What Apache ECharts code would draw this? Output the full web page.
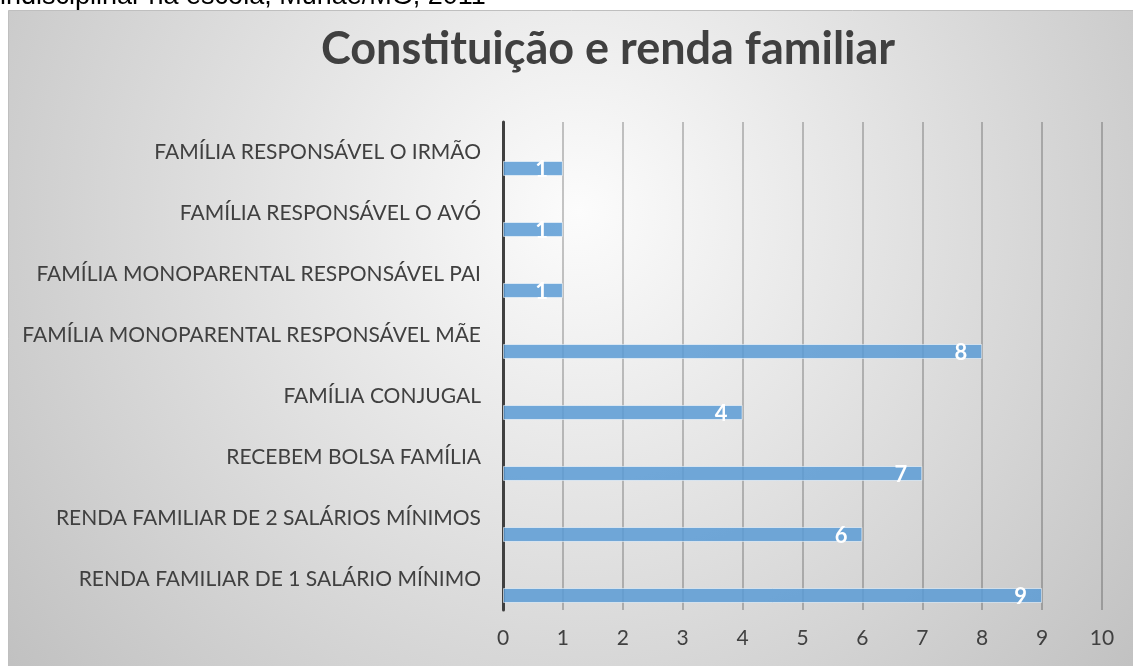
<!DOCTYPE html>
<html>
<head>
<meta charset="utf-8">
<script src="https://cdn.jsdelivr.net/npm/echarts@6/dist/echarts.min.js"></script>
<style>
  html, body { margin: 0; padding: 0; background: #fff; }
  #main { width: 1133px; height: 666px; }
</style>
</head>
<body>
<div id="main"></div>
<script>
// categories from bottom to top, same order as the picture reads upward
const categories = [
    'RENDA FAMILIAR DE 1 SALÁRIO MÍNIMO',
    'RENDA FAMILIAR DE 2 SALÁRIOS MÍNIMOS',
    'RECEBEM BOLSA FAMÍLIA',
    'FAMÍLIA CONJUGAL',
    'FAMÍLIA MONOPARENTAL RESPONSÁVEL MÃE',
    'FAMÍLIA MONOPARENTAL RESPONSÁVEL PAI',
    'FAMÍLIA RESPONSÁVEL O AVÓ',
    'FAMÍLIA RESPONSÁVEL O IRMÃO'
];
const values = [9, 6, 7, 4, 8, 1, 1, 1];
// empty companion series, only there so the bars sit below the labels
const emptyValues = categories.map(() => '-');

const titleText = 'Constituição e renda familiar';
const captionText = 'indisciplinar na escola, Muriaé/MG, 2011';

let myChart = echarts.init(document.getElementById('main'));

const fontFam = 'Lato, "Open Sans", sans-serif';

let option = {
    animation: false,
    title: {
        text: titleText,
        left: 603,
        textAlign: 'center',
        top: 22,
        textStyle: {
            fontFamily: fontFam,
            fontSize: 45,
            fontWeight: 'bold',
            color: '#404040'
        }
    },
    graphic: [
        {
            type: 'rect',
            z: -10,
            shape: { x: 8.5, y: 10.5, width: 1140, height: 670 },
            style: {
                fill: {
                    type: 'radial',
                    x: 0.5, y: 0.3, r: 1.1,
                    colorStops: [
                        { offset: 0, color: '#fcfcfc' },
                        { offset: 1, color: '#c0c0c0' }
                    ]
                },
                stroke: '#bfbfbf',
                lineWidth: 1
            }
        },
        {
            type: 'text',
            z: -5,
            style: {
                text: captionText,
                x: 0,
                y: -3,
                verticalAlign: 'middle',
                font: '27px "Liberation Sans", Arial, sans-serif',
                fill: '#000'
            }
        }
    ],
    grid: {
        left: 503,
        right: 31,
        top: 122,
        bottom: 56,
        containLabel: false
    },
    xAxis: {
        type: 'value',
        min: 0,
        max: 10,
        interval: 1,
        axisLine: { show: false },
        axisTick: { show: false },
        axisLabel: {
            fontFamily: fontFam,
            fontSize: 21,
            color: '#404040',
            margin: 18
        },
        splitLine: {
            show: true,
            lineStyle: { color: 'rgba(0,0,0,0.22)', width: 2 }
        }
    },
    yAxis: {
        type: 'category',
        data: categories,
        axisLine: {
            show: true,
            lineStyle: { color: '#404040', width: 3 }
        },
        axisTick: { show: false },
        axisLabel: {
            fontFamily: fontFam,
            fontSize: 21,
            color: '#404040',
            margin: 22
        }
    },
    series: [
        {
            type: 'bar',
            data: emptyValues,
            barWidth: 15,
            barGap: '113%'
        },
        {
            type: 'bar',
            data: values,
            barWidth: 15,
            barGap: '113%',
            itemStyle: {
                color: 'rgba(91,155,213,0.85)',
                borderColor: 'rgba(255,255,255,0.55)',
                borderWidth: 1
            },
            label: {
                show: true,
                position: 'insideRight',
                distance: 15,
                offset: [0, 1],
                fontFamily: fontFam,
                fontSize: 22,
                fontWeight: 'bold',
                color: '#fff'
            }
        }
    ]
};
myChart.setOption(option);
</script>
</body>
</html>
